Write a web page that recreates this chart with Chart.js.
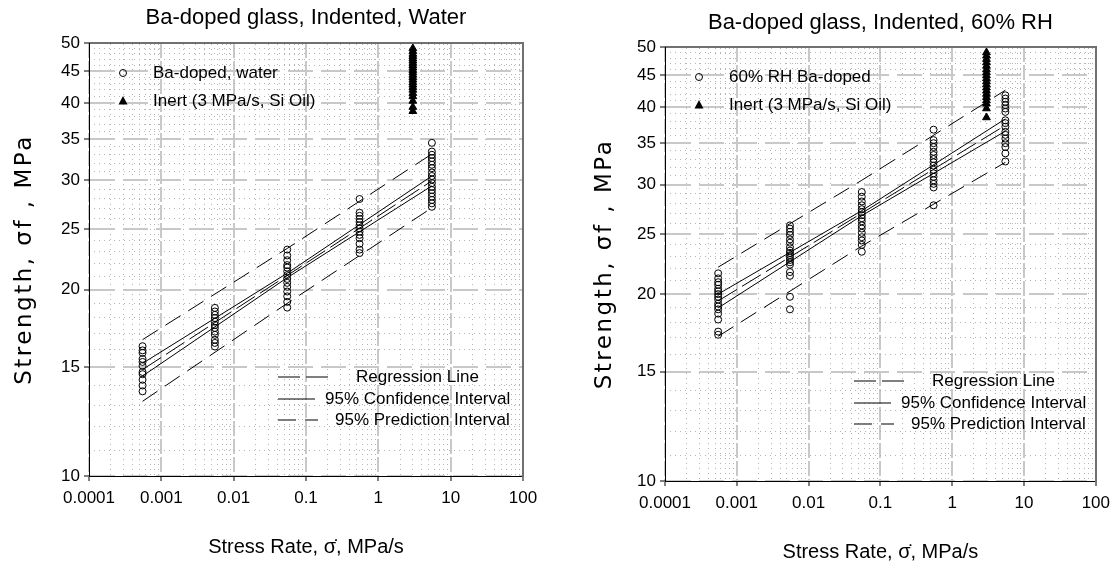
<!DOCTYPE html>
<html><head><meta charset="utf-8">
<script src="https://cdn.jsdelivr.net/npm/chart.js@4.4.1/dist/chart.umd.min.js"></script>
<style>
html,body{margin:0;padding:0;background:#fff;width:1117px;height:569px;overflow:hidden}
#c1{position:absolute;left:0;top:0}
#c2{position:absolute;left:558px;top:0}
</style>
</head><body>
<canvas id="c1" width="558" height="569"></canvas>
<canvas id="c2" width="559" height="569"></canvas>
<script>
// ---- tick labels ----
const xTickValues = [0.0001, 0.001, 0.01, 0.1, 1, 10, 100];
const xTickLabels = ['0.0001', '0.001', '0.01', '0.1', '1', '10', '100'];
const yTickValues = [10, 15, 20, 25, 30, 35, 40, 45, 50];
const yTickLabels = ['10', '15', '20', '25', '30', '35', '40', '45', '50'];

// ---- stress rates (MPa/s) ----
const stressRates = [0.00055, 0.0055, 0.055, 0.55, 5.5];
const inertRate = 3;
const fitRates = [0.00055, 0.055, 5.5];

// ---- Ba-doped, water (MPa) ----
const water1 = [16.2, 15.95, 15.8, 15.45, 15.28, 15.06, 14.72, 14.6, 14.3, 14.0, 13.7];
const water2 = [18.68, 18.43, 18.2, 17.99, 17.75, 17.53, 17.34, 17.1, 16.9, 16.59, 16.4, 16.18];
const water3 = [23.2, 22.7, 22.3, 21.9, 21.7, 21.4, 21.1, 20.8, 20.5, 20.2, 19.85, 19.5, 19.1, 18.7];
const water4 = [28.0, 26.6, 26.3, 26.0, 25.7, 25.4, 25.1, 24.8, 24.5, 24.2, 23.7, 23.2, 22.9];
const water5 = [34.5, 33.4, 33.0, 32.6, 32.2, 31.8, 31.4, 30.9, 30.5, 30.1, 29.7, 29.3, 28.95, 28.6, 28.25, 27.9, 27.55, 27.2];
const waterInert = [49.0, 48.5, 48.0, 47.6, 47.2, 46.8, 46.4, 46.0, 45.6, 45.2, 44.8, 44.4, 44.0, 43.6, 43.2, 42.8, 42.4, 42.0, 41.5, 41.0, 40.3, 39.4, 38.8];
const waterRegression = [14.85, 21.07, 29.95];
const waterConfUpper = [15.2, 21.25, 30.5];
const waterConfLower = [14.5, 20.9, 29.4];
const waterPredUpper = [16.6, 23.3, 33.1];
const waterPredLower = [13.2, 19.0, 27.1];

// ---- 60% RH Ba-doped (MPa) ----
const rh1 = [21.6, 21.2, 20.9, 20.7, 20.4, 20.2, 20.0, 19.8, 19.6, 19.3, 19.1, 18.9, 18.6, 18.2, 17.4, 17.2];
const rh2 = [25.8, 25.5, 25.2, 24.9, 24.5, 24.2, 23.8, 23.5, 23.3, 23.1, 22.9, 22.7, 22.5, 22.3, 21.7, 21.4, 19.8, 18.9];
const rh3 = [29.2, 28.7, 28.2, 27.8, 27.4, 27.1, 26.8, 26.5, 26.2, 25.8, 25.5, 25.1, 24.7, 24.4, 24.0, 23.4];
const rh4 = [36.8, 35.4, 35.0, 34.5, 33.9, 33.5, 33.0, 32.6, 32.2, 31.7, 31.3, 30.9, 30.5, 30.1, 29.7, 27.8];
const rh5 = [41.8, 41.3, 40.8, 40.3, 39.8, 39.3, 38.1, 37.7, 37.2, 36.5, 36.1, 35.6, 35.0, 34.5, 33.7, 32.7];
const rhInert = [49.0, 48.4, 47.8, 47.2, 46.6, 46.0, 45.5, 45.0, 44.5, 44.0, 43.5, 43.0, 42.5, 42.0, 41.5, 41.0, 40.5, 39.8, 38.5];
const rhRegression = [19.5, 27.0, 37.4];
const rhConfUpper = [20.0, 27.25, 38.3];
const rhConfLower = [19.0, 26.75, 36.6];
const rhPredUpper = [22.1, 30.5, 42.6];
const rhPredLower = [17.1, 23.9, 32.6];

// ---- minor grid positions ----
const xMinorValues = [];
[0.0001, 0.001, 0.01, 0.1, 1, 10].forEach(d => { for (let k = 2; k <= 9; k++) xMinorValues.push(d * k); });
const yMinorValues = [];
for (let v = 11; v < 50; v++) if (v % 5 !== 0) yMinorValues.push(v);

const FONT = "'Liberation Sans', Arial, Helvetica, sans-serif";
const WIDE = "'DejaVu Sans', Verdana, sans-serif";
const X_TITLE = 'Stress Rate, \u03C3\u0307, MPa/s';
const Y_TITLE = 'Strength, \u03C3f , MPa';

const legendPlugin = {
  id: 'customLegend',
  afterDatasetsDraw(chart) {
    const ctx = chart.ctx, a = chart.chartArea, ds = chart.data.datasets;
    ctx.save();
    ctx.font = '17px ' + FONT;
    ctx.fillStyle = '#000';
    ctx.textBaseline = 'middle';
    ctx.textAlign = 'left';
    const mx = a.left + 34;
    let y = a.top + 30;
    ctx.strokeStyle = '#000'; ctx.lineWidth = 1;
    ctx.beginPath(); ctx.arc(mx, y, 3.5, 0, Math.PI * 2); ctx.stroke();
    ctx.fillText(ds[0].label, a.left + 64, y);
    y = a.top + 58;
    ctx.beginPath(); ctx.moveTo(mx, y - 5); ctx.lineTo(mx + 4.5, y + 3.5); ctx.lineTo(mx - 4.5, y + 3.5); ctx.closePath(); ctx.fill();
    ctx.fillText(ds[1].label, a.left + 64, y);
    const items = [
      { d: ds[2], dy: 334, end: 243, tx: 267 },
      { d: ds[3], dy: 356, end: 226, tx: 236 },
      { d: ds[5], dy: 377, end: 229, tx: 246 }
    ];
    items.forEach(it => {
      const yy = a.top + it.dy;
      ctx.save();
      ctx.strokeStyle = it.d === ds[3] ? '#000' : '#555';
      ctx.lineWidth = it.d === ds[3] ? 1 : 1.6;
      ctx.setLineDash(it.d.borderDash || []);
      ctx.beginPath(); ctx.moveTo(a.left + 189, yy); ctx.lineTo(a.left + it.end, yy); ctx.stroke();
      ctx.restore();
      ctx.fillText(it.d.label, a.left + it.tx, yy);
    });
    ctx.restore();
    // the y-axis title layer (z = 1) is drawn next, with wide tracking
    ctx.letterSpacing = '2.5px';
  },
  afterDraw(chart) { chart.ctx.letterSpacing = '0px'; }
};

function pts(rates, groups) {
  return groups.flatMap((g, i) => g.map(v => ({ x: rates[i], y: v })));
}
function line(values) { return fitRates.map((r, i) => ({ x: r, y: values[i] })); }

function makeChart(id, c) {
  const lineBase = { showLine: true, pointRadius: 0, fill: false, borderColor: '#000', borderWidth: 1 };
  return new Chart(document.getElementById(id), {
    type: 'scatter',
    data: {
      datasets: [
        { label: c.circleLabel, data: pts(stressRates, c.groups), pointStyle: 'circle', pointRadius: 3.5,
          borderColor: '#000', borderWidth: 1, backgroundColor: 'rgba(0,0,0,0)', order: 1 },
        { label: 'Inert (3 MPa/s, Si Oil)', data: c.inert.map(v => ({ x: inertRate, y: v })), pointStyle: 'triangle',
          pointRadius: 4.5, borderColor: '#000', borderWidth: 1, backgroundColor: '#000', order: 1 },
        Object.assign({ label: 'Regression Line', data: line(c.reg), borderDash: [22, 6], order: 2 }, lineBase),
        Object.assign({ label: '95% Confidence Interval', data: line(c.ciU), order: 2 }, lineBase),
        Object.assign({ label: '95% Confidence Interval', data: line(c.ciL), order: 2 }, lineBase),
        Object.assign({ label: '95% Prediction Interval', data: line(c.piU), borderDash: [18, 9], order: 2 }, lineBase),
        Object.assign({ label: '95% Prediction Interval', data: line(c.piL), borderDash: [18, 9], order: 2 }, lineBase)
      ]
    },
    options: {
      responsive: false, devicePixelRatio: 1, animation: false,
      layout: { padding: { left: 0, right: c.padRight, top: 0, bottom: 0 } },
      plugins: {
        legend: { display: false }, tooltip: { enabled: false },
        title: { display: true, text: c.title, fullSize: false, color: '#000',
                 font: { family: FONT, size: 22, weight: 'normal', lineHeight: 1.2 },
                 padding: { top: c.titleTop, bottom: c.titleBottom } }
      },
      scales: {
        x: { type: 'logarithmic', position: 'bottom', min: 0.0001, max: 100,
             afterBuildTicks: s => { s.ticks = xTickValues.map(v => ({ value: v })); },
             afterFit: s => { s.height = c.xHeight; },
             ticks: { callback: (v, i) => xTickLabels[i], font: { family: FONT, size: 17 }, color: '#000',
                      padding: 7, maxRotation: 0, autoSkip: false },
             grid: { color: '#c8c8c8', lineWidth: 2, tickColor: '#000', tickWidth: 1, tickLength: 5 },
             border: { display: true, color: '#000', width: 1, dash: [15, 3] },
             title: { display: true, text: X_TITLE, color: '#000', font: { family: FONT, size: 20, lineHeight: 1.2 },
                      padding: { top: 0, bottom: c.xTitleBottom } } },
        xm: { type: 'logarithmic', position: 'top', min: 0.0001, max: 100,
              afterBuildTicks: s => { s.ticks = xMinorValues.map(v => ({ value: v })); },
              afterFit: s => { s.height = 0; },
              ticks: { display: false },
              grid: { color: '#b4b4b4', lineWidth: 1, drawTicks: false },
              border: { display: true, color: '#707070', width: 2, dash: [1, 4] } },
        yt: { type: 'logarithmic', position: 'left', weight: 5, min: 10, max: 50,
              afterFit: s => { s.width = c.yTitleWidth; },
              ticks: { display: false },
              grid: { display: false, drawTicks: false, z: 1 },
              border: { display: false },
              title: { display: true, text: Y_TITLE, color: '#000', font: { family: WIDE, size: 23, lineHeight: 1.2 },
                       padding: { top: c.yTitleTop, bottom: 0 } } },
        y: { type: 'logarithmic', position: 'left', weight: 0, min: 10, max: 50,
             afterBuildTicks: s => { s.ticks = yTickValues.map(v => ({ value: v })); },
             afterFit: s => { s.width = c.yWidth - c.yTitleWidth; },
             ticks: { callback: (v, i) => yTickLabels[i], font: { family: FONT, size: 17 }, color: '#000',
                      padding: 4, autoSkip: false },
             grid: { color: '#c8c8c8', lineWidth: 2, tickColor: '#000', tickWidth: 1, tickLength: 5 },
             border: { display: true, color: '#000', width: 1, dash: [25, 8] } },
        ym: { type: 'logarithmic', position: 'right', min: 10, max: 50,
              afterBuildTicks: s => { s.ticks = yMinorValues.map(v => ({ value: v })); },
              afterFit: s => { s.width = 0; },
              ticks: { display: false },
              grid: { color: '#b4b4b4', lineWidth: 1, drawTicks: false },
              border: { display: true, color: '#707070', width: 2, dash: [1, 4] } }
      }
    },
    plugins: [legendPlugin]
  });
}

makeChart('c1', {
  title: 'Ba-doped glass, Indented, Water', circleLabel: 'Ba-doped, water',
  groups: [water1, water2, water3, water4, water5], inert: waterInert,
  reg: waterRegression, ciU: waterConfUpper, ciL: waterConfLower, piU: waterPredUpper, piL: waterPredLower,
  padRight: 35, titleTop: 5, titleBottom: 11.6, xHeight: 93, yWidth: 89, yTitleWidth: 45,
  xTitleBottom: 9.6, yTitleTop: 11
});
makeChart('c2', {
  title: 'Ba-doped glass, Indented, 60% RH', circleLabel: '60% RH Ba-doped',
  groups: [rh1, rh2, rh3, rh4, rh5], inert: rhInert,
  reg: rhRegression, ciU: rhConfUpper, ciL: rhConfLower, piU: rhPredUpper, piL: rhPredLower,
  padRight: 20, titleTop: 9.8, titleBottom: 10.8, xHeight: 88, yWidth: 107, yTitleWidth: 63,
  xTitleBottom: 4.6, yTitleTop: 33
});
</script>
</body></html>
